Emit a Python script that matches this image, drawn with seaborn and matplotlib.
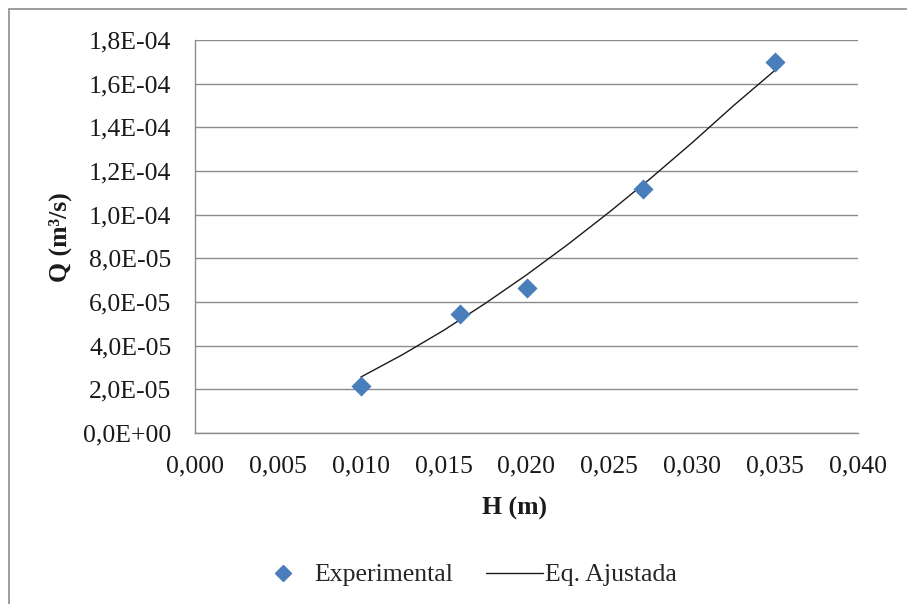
import numpy as np
import pandas as pd
import matplotlib
matplotlib.use("Agg")
import matplotlib.pyplot as plt
import seaborn as sns
from matplotlib.ticker import FuncFormatter, MultipleLocator
from matplotlib.patches import Rectangle
from matplotlib.lines import Line2D

# Experimental points
h_exp = [0.010, 0.016, 0.020, 0.027, 0.035]
q_exp = [2.15e-05, 5.45e-05, 6.65e-05, 1.117e-04, 1.699e-04]

# Fitted curve
h_fit = [0.010, 0.0125, 0.015, 0.0175, 0.020, 0.0225, 0.025, 0.0275, 0.030, 0.0325, 0.035]
q_fit = [2.56e-05, 3.58e-05, 4.70e-05, 5.93e-05, 7.24e-05, 8.64e-05,
         1.012e-04, 1.167e-04, 1.330e-04, 1.500e-04, 1.662e-04]

df_exp = pd.DataFrame({"H": h_exp, "Q": q_exp})
df_fit = pd.DataFrame({"H": h_fit, "Q": q_fit})

sns.set_style("white")
plt.rcParams["font.family"] = ["Liberation Serif", "DejaVu Serif"]

W, H = 907, 604
fs = 18.5
fig = plt.figure(figsize=(W / 100, H / 100), dpi=100)
ax = fig.add_axes([195 / W, 1 - 433 / H, (858 - 195) / W, (433 - 40) / H])

# outer chart border
fig.patches.append(Rectangle((9 / W, -0.05), 1.2, 1 - 9 / H + 0.05,
                             transform=fig.transFigure, fill=False,
                             edgecolor="#8c8c8c", linewidth=1.2))

blue = "#4A7EBB"
sns.lineplot(data=df_fit, x="H", y="Q", ax=ax, color="#1a1a1a", linewidth=1.0)
sns.scatterplot(data=df_exp, x="H", y="Q", ax=ax, marker="D", s=105,
                color=blue, edgecolor=blue, linewidth=0, zorder=3)

ax.set_xlim(0, 0.040)
ax.set_ylim(0, 1.8e-4)
ax.xaxis.set_major_locator(MultipleLocator(0.005))
ax.yaxis.set_major_locator(MultipleLocator(2e-5))
ax.xaxis.set_major_formatter(FuncFormatter(lambda v, p: f"{v:.3f}".replace(".", ",")))
ax.yaxis.set_major_formatter(FuncFormatter(lambda v, p: f"{v:.1E}".replace(".", ",")))

ax.grid(axis="y", color="#8c8c8c", linewidth=1.0)
ax.grid(axis="x", visible=False)
ax.set_axisbelow(True)
for s in ["top", "right"]:
    ax.spines[s].set_visible(False)
for s in ["left", "bottom"]:
    ax.spines[s].set_color("#8c8c8c")
    ax.spines[s].set_linewidth(1.0)

ax.tick_params(axis="both", direction="out", length=7, width=1.0,
               color="#8c8c8c", labelsize=fs, labelcolor="#1a1a1a")
ax.tick_params(axis="y", pad=10)
ax.tick_params(axis="x", pad=9)

ax.set_xlabel("H (m)", fontsize=fs, fontweight="bold", color="#1a1a1a")
ax.set_ylabel("Q (m³/s)", fontsize=fs, fontweight="bold", color="#1a1a1a")
ax.xaxis.set_label_coords((515 - 195) / 663, (433 - 497) / 393)
ax.yaxis.set_label_coords((72 - 195) / 663, (433 - 237) / 393)

handles = [
    Line2D([], [], marker="D", linestyle="none", color=blue, markersize=8.5),
    Line2D([], [], color="#1a1a1a", linewidth=1.0),
]
fig.legend(handles, ["Experimental", "Eq. Ajustada"], loc="center",
           bbox_to_anchor=(466 / W, 1 - 575 / H), ncol=2, frameon=False,
           fontsize=fs, handlelength=2.2, columnspacing=1.3, handletextpad=0.1)

fig.savefig("out.png", dpi=100)
